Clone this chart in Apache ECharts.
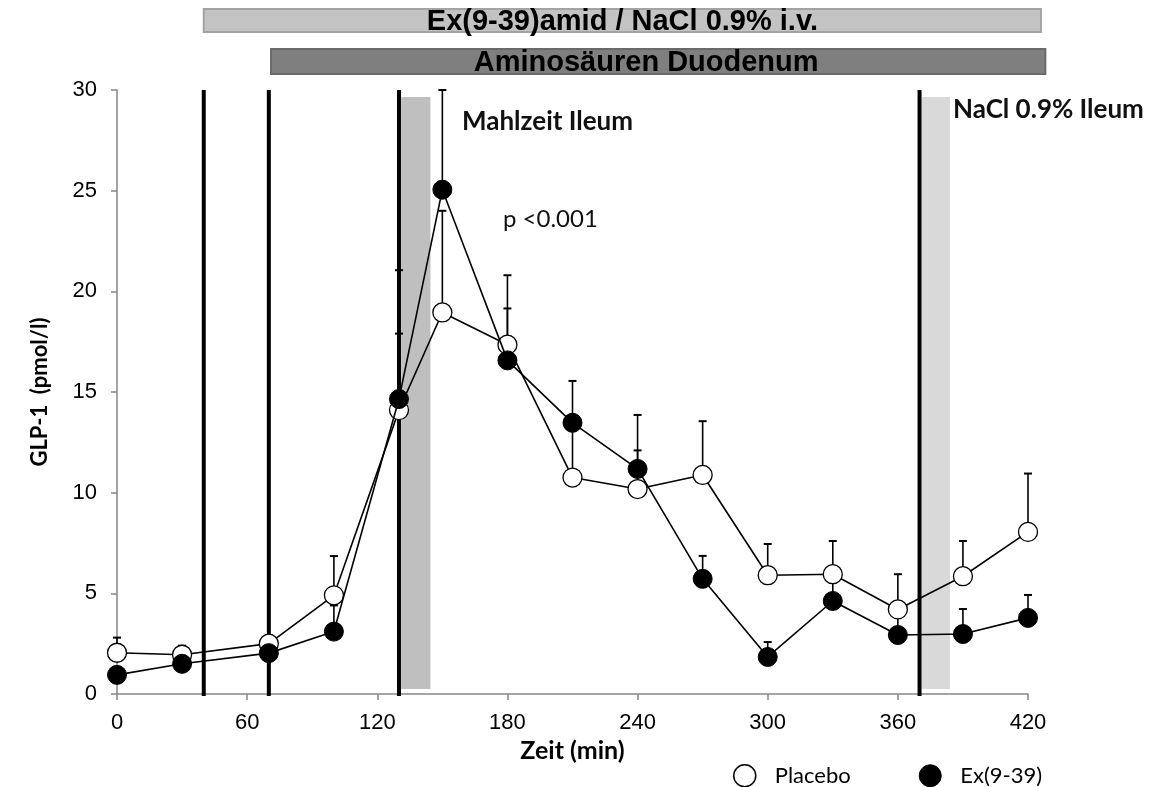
<!DOCTYPE html>
<html>
<head>
<meta charset="utf-8">
<script src="https://cdn.jsdelivr.net/npm/echarts@6/dist/echarts.min.js"></script>
<style>
  html, body { margin: 0; padding: 0; background: #fff; }
  #main { width: 1149px; height: 787px; }
</style>
</head>
<body>
<div id="main"></div>
<script>
// Zeitpunkte (min)
const times = [0, 30, 70, 100, 130, 150, 180, 210, 240, 270, 300, 330, 360, 390, 420];
// GLP-1 Mittelwerte und obere Fehlergrenze (Mittel + SEM)
const placebo    = [2.05, 1.95, 2.5, 4.9, 14.1, 18.95, 17.35, 10.75, 10.18, 10.88, 5.9, 5.95, 4.2, 5.85, 8.05];
const placeboTop = [2.8, 2.4, 2.9, 6.85, 17.9, 24.0, 20.8, 13.3, 12.1, 13.55, 7.45, 7.6, 5.95, 7.6, 10.95];
const ex         = [0.95, 1.5, 2.03, 3.1, 14.65, 25.05, 16.57, 13.47, 11.18, 5.72, 1.84, 4.62, 2.93, 2.98, 3.78];
const exTop      = [1.3, 1.9, 2.4, 4.4, 21.05, 30, 19.15, 15.55, 13.86, 6.86, 2.58, 5.6, 4.0, 4.22, 4.92];
// senkrechte Markierungen (min)
const marks = [40, 70, 130, 370];
// graue Infusionsphasen: [start, ende, oben]
const phases = [[131, 144.5, 29.65, '#bfbfbf'], [371, 384, 29.65, '#d9d9d9']];
// Balken oben: [start, ende, text]
const topBars = [
  [40, 426, 'Ex(9-39)amid / NaCl 0.9% i.v.'],
  [71, 428, 'Aminosäuren Duodenum']
];
const xTicks = [0, 420, 60];
const yTicks = [0, 30, 5];

const chart = echarts.init(document.getElementById('main'));

function errBars(means, tops) {
  return times.map((t, i) => [t, means[i], tops[i]]);
}

function renderErr(params, api) {
  const lo = api.coord([api.value(0), api.value(1)]);
  const hi = api.coord([api.value(0), api.value(2)]);
  return {
    type: 'group',
    children: [
      { type: 'line', shape: { x1: lo[0], y1: lo[1], x2: hi[0], y2: hi[1] }, style: { stroke: '#000', lineWidth: 1.6 } },
      { type: 'line', shape: { x1: hi[0] - 4, y1: hi[1], x2: hi[0] + 4, y2: hi[1] }, style: { stroke: '#000', lineWidth: 2 } }
    ]
  };
}

const option = {
  animation: false,
  grid: { left: 117, right: 121, top: 90, bottom: 93 },
  xAxis: {
    type: 'value', min: xTicks[0], max: xTicks[1], interval: xTicks[2],
    name: 'Zeit (min)', nameLocation: 'middle', nameGap: 40,
    nameTextStyle: { fontFamily: 'Lato', fontWeight: 'bold', fontSize: 25, color: '#000' },
    axisLine: { lineStyle: { color: '#868686', width: 1.5 } },
    axisTick: { length: 6, lineStyle: { color: '#868686', width: 1.5 } },
    axisLabel: { fontFamily: 'Liberation Sans', fontSize: 22, color: '#000', margin: 18 },
    splitLine: { show: false }
  },
  yAxis: {
    type: 'value', min: yTicks[0], max: yTicks[1], interval: yTicks[2],
    name: 'GLP-1  (pmol/l)', nameLocation: 'middle', nameGap: 66,
    nameTextStyle: { fontFamily: 'Lato', fontWeight: 'bold', fontSize: 22, color: '#000' },
    axisLine: { show: true, lineStyle: { color: '#868686', width: 1.5 } },
    axisTick: { show: true, length: 6, lineStyle: { color: '#868686', width: 1.5 } },
    axisLabel: { fontFamily: 'Liberation Sans', fontSize: 22, color: '#000', margin: 20 },
    splitLine: { show: false }
  },
  legend: {
    left: 728, top: 759, icon: 'circle', itemWidth: 22, itemHeight: 22, itemGap: 68,
    textStyle: { fontFamily: 'Lato', fontSize: 22, color: '#000', padding: [0, 0, 0, 14] },
    data: [
      { name: 'Placebo', itemStyle: { color: '#fff', borderColor: '#000', borderWidth: 1.5 } },
      { name: 'Ex(9-39)', itemStyle: { color: '#000', borderColor: '#000', borderWidth: 1 } }
    ]
  },
  graphic: [
    { type: 'text', left: 462, top: 109, style: { text: 'Mahlzeit Ileum', font: 'bold 26px Lato', fill: '#111' } },
    { type: 'text', left: 953, top: 97, style: { text: 'NaCl 0.9% Ileum', font: 'bold 26px Lato', fill: '#111' } },
    { type: 'text', left: 503, top: 207, style: { text: 'p <0.001', font: '24px Lato', fill: '#111' } }
  ],
  series: [
    {
      type: 'custom', z: 1, silent: true,
      data: phases,
      renderItem(params, api) {
        const a = api.coord([api.value(0), api.value(2)]);
        const b = api.coord([api.value(1), 0.25]);
        return { type: 'rect', shape: { x: a[0], y: a[1], width: b[0] - a[0], height: b[1] - a[1] },
                 style: { fill: phases[params.dataIndex][3] } };
      }
    },
    {
      type: 'custom', z: 2, silent: true,
      data: marks.map(m => [m]),
      renderItem(params, api) {
        const a = api.coord([api.value(0), 30]);
        const b = api.coord([api.value(0), 0]);
        return { type: 'line', shape: { x1: a[0], y1: a[1], x2: b[0], y2: b[1] + 2 }, style: { stroke: '#000', lineWidth: 4 } };
      }
    },
    {
      type: 'custom', z: 3, silent: true,
      data: topBars,
      renderItem(params, api) {
        const a = api.coord([api.value(0), 0])[0];
        const b = api.coord([api.value(1), 0])[0];
        const i = params.dataIndex;
        const y = i === 0 ? 9 : 49;
        const h = i === 0 ? 23 : 25;
        return {
          type: 'group',
          children: [
            { type: 'rect', shape: { x: a, y: y, width: b - a, height: h },
              style: { fill: i === 0 ? '#c3c3c3' : '#7f7f7f', stroke: i === 0 ? '#a3a3a3' : '#6a6a6a', lineWidth: 2 } },
            { type: 'text', x: (a + b) / 2 - (i === 0 ? 0 : 12), y: y + h / 2 + 1,
              style: { text: topBars[i][2], font: 'bold 29px "Liberation Sans"', fill: '#000', align: 'center', verticalAlign: 'middle' } }
          ]
        };
      }
    },
    { type: 'custom', z: 4, silent: true, data: errBars(placebo, placeboTop), renderItem: renderErr },
    { type: 'custom', z: 4, silent: true, data: errBars(ex, exTop), renderItem: renderErr },
    {
      name: 'Placebo', type: 'line', z: 5,
      data: times.map((t, i) => [t, placebo[i]]),
      symbol: 'circle', symbolSize: 19,
      lineStyle: { color: '#000', width: 1.6 },
      itemStyle: { color: '#fff', borderColor: '#000', borderWidth: 1.3 }
    },
    {
      name: 'Ex(9-39)', type: 'line', z: 6,
      data: times.map((t, i) => [t, ex[i]]),
      symbol: 'circle', symbolSize: 19,
      lineStyle: { color: '#000', width: 1.6 },
      itemStyle: { color: '#000', borderColor: '#000', borderWidth: 1 }
    }
  ]
};

chart.setOption(option);
</script>
</body>
</html>
